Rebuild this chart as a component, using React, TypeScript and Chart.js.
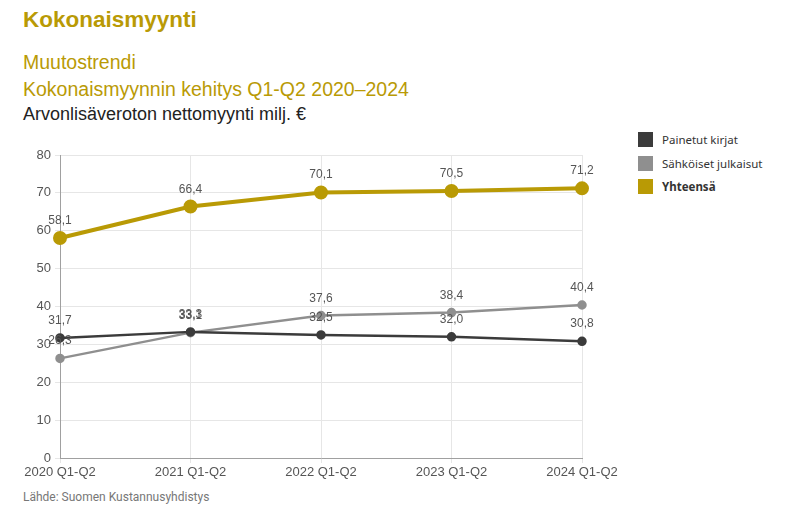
import React, { useEffect, useRef } from "react";
import { Chart, registerables } from "chart.js";

Chart.register(...registerables);

const categories = ["2020 Q1-Q2", "2021 Q1-Q2", "2022 Q1-Q2", "2023 Q1-Q2", "2024 Q1-Q2"];
const painetut = [31.7, 33.3, 32.5, 32.0, 30.8];
const sahkoiset = [26.3, 33.1, 37.6, 38.4, 40.4];
const yhteensa = [58.1, 66.4, 70.1, 70.5, 71.2];
const yTicks = [0, 10, 20, 30, 40, 50, 60, 70, 80];

const GOLD = "#b99a05";
const DARK = "#3b3b3b";
const GREY = "#8f8f8f";

const valueLabels = {
  id: "valueLabels",
  afterDatasetsDraw(chart: any) {
    const ctx = chart.ctx;
    ctx.save();
    ctx.font = "12px 'Liberation Sans', Arial, sans-serif";
    ctx.fillStyle = "#555555";
    ctx.textAlign = "center";
    ctx.textBaseline = "alphabetic";
    chart.data.datasets.forEach((ds: any, i: number) => {
      const meta = chart.getDatasetMeta(i);
      meta.data.forEach((pt: any, j: number) => {
        const v = ds.data[j];
        ctx.fillText(v.toFixed(1).replace(".", ","), pt.x, pt.y - 14);
      });
    });
    ctx.restore();
  },
};

function ChartCanvas() {
  const ref = useRef<HTMLCanvasElement>(null);
  useEffect(() => {
    if (!ref.current) return;
    const chart = new Chart(ref.current, {
      type: "line",
      data: {
        labels: categories,
        datasets: [
          {
            label: "Painetut kirjat",
            data: painetut,
            borderColor: DARK,
            backgroundColor: DARK,
            pointBackgroundColor: DARK,
            pointBorderColor: DARK,
            borderWidth: 2.5,
            pointRadius: 3.5,
            tension: 0,
          },
          {
            label: "Sähköiset julkaisut",
            data: sahkoiset,
            borderColor: GREY,
            backgroundColor: GREY,
            pointBackgroundColor: GREY,
            pointBorderColor: GREY,
            borderWidth: 2.5,
            pointRadius: 3.5,
            tension: 0,
          },
          {
            label: "Yhteensä",
            data: yhteensa,
            borderColor: GOLD,
            backgroundColor: GOLD,
            pointBackgroundColor: GOLD,
            pointBorderColor: GOLD,
            borderWidth: 4,
            pointRadius: 5,
            tension: 0,
          },
        ],
      },
      options: {
        animation: false,
        responsive: false,
        maintainAspectRatio: false,
        layout: { padding: { top: 15, right: 38, left: 0, bottom: 0 } },
        plugins: {
          legend: { display: false },
          tooltip: { enabled: false },
          title: { display: false },
        },
        scales: {
          x: {
            afterFit: (s: any) => {
              s.height = 32;
            },
            grid: { color: "#e6e6e6", tickLength: 5, drawTicks: true },
            border: { display: true, color: "#a0a0a0" },
            ticks: {
              color: "#555555",
              font: { family: "'Liberation Sans', Arial, sans-serif", size: 13 },
              padding: 2,
              maxRotation: 0,
              autoSkip: false,
            },
          },
          y: {
            min: yTicks[0],
            max: yTicks[yTicks.length - 1],
            afterFit: (s: any) => {
              s.width = 60;
            },
            afterBuildTicks: (s: any) => {
              s.ticks = yTicks.map((v) => ({ value: v }));
            },
            grid: { color: "#e6e6e6", tickLength: 5 },
            border: { display: true, color: "#a0a0a0" },
            ticks: {
              color: "#555555",
              font: { family: "'Liberation Sans', Arial, sans-serif", size: 13 },
              padding: 4,
            },
          },
        },
      },
      plugins: [valueLabels],
    });
    return () => chart.destroy();
  }, []);
  return (
    <canvas
      ref={ref}
      width={620}
      height={350}
      style={{ position: "absolute", left: 0, top: 140, width: 620, height: 350 }}
    />
  );
}

const legendItems = [
  { label: "Painetut kirjat", color: DARK, bold: false },
  { label: "Sähköiset julkaisut", color: GREY, bold: false },
  { label: "Yhteensä", color: GOLD, bold: true },
];

export default function App() {
  const font = "'Liberation Sans', Arial, Helvetica, sans-serif";
  return (
    <div
      style={{
        position: "absolute",
        left: 0,
        top: 0,
        width: 790,
        height: 523,
        background: "#ffffff",
        overflow: "hidden",
        fontFamily: font,
      }}
    >
      <div style={{ position: "absolute", left: 23, top: 6, fontSize: 22.5, fontWeight: 700, color: GOLD, lineHeight: "28px" }}>
        Kokonaismyynti
      </div>
      <div style={{ position: "absolute", left: 23, top: 50, fontSize: 19.5, color: GOLD, lineHeight: "24px" }}>
        Muutostrendi
      </div>
      <div style={{ position: "absolute", left: 23, top: 77, fontSize: 19.5, color: GOLD, lineHeight: "24px" }}>
        Kokonaismyynnin kehitys Q1-Q2 2020–2024
      </div>
      <div style={{ position: "absolute", left: 23, top: 103, fontSize: 18, color: "#222222", lineHeight: "22px" }}>
        Arvonlisäveroton nettomyynti milj. €
      </div>
      <ChartCanvas />
      {legendItems.map((it, i) => (
        <div
          key={it.label}
          style={{
            position: "absolute",
            left: 638,
            top: 132 + i * 23.5,
            height: 15,
            display: "flex",
            alignItems: "center",
            fontFamily: "'Noto Sans', sans-serif",
            fontSize: 11.5,
            color: "#333333",
            fontWeight: it.bold ? 700 : 400,
          }}
        >
          <span style={{ display: "inline-block", width: 15, height: 15, background: it.color, marginRight: 9 }} />
          {it.label}
        </div>
      ))}
      <div
        style={{
          position: "absolute",
          left: 23,
          top: 490,
          fontFamily: "Roboto, sans-serif",
          fontSize: 12,
          color: "#777777",
          lineHeight: "14px",
        }}
      >
        Lähde: Suomen Kustannusyhdistys
      </div>
    </div>
  );
}
